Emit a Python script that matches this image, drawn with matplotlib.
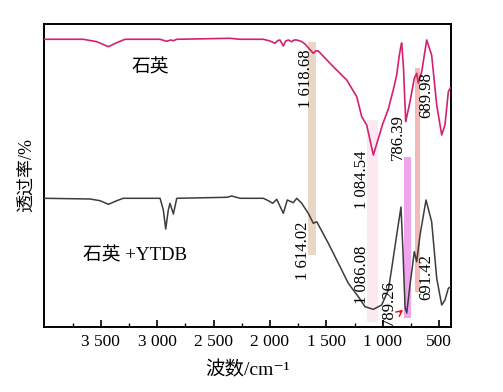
import numpy as np
import matplotlib
matplotlib.use('Agg')
import matplotlib.pyplot as plt

plt.rcParams['font.family'] = ['Liberation Serif', 'Noto Sans CJK SC', 'DejaVu Serif']

# 石英 (top curve)
top_wn = [4000, 3654, 3535, 3432, 3358, 3285, 2974, 2915, 2879, 2856, 2826, 2354, 2265,
          2058, 2000, 1955, 1930, 1911, 1881, 1860, 1837, 1807, 1785, 1762, 1720, 1689,
          1650, 1615, 1590, 1571, 1438, 1319, 1230, 1186, 1142, 1083, 1040, 1000, 950,
          900, 876, 855, 840, 832, 817, 796, 758, 720, 699, 684, 654, 610, 566, 521,
          477, 448, 418, 400]
top_T = [287.7, 287.7, 285.3, 280.3, 284.3, 287.7, 287.7, 285.7, 287, 286.3, 287.7, 288.7, 287.7,
         287.7, 286, 283.7, 286.5, 287, 281, 286, 287, 285.3, 287, 287, 285.5, 283,
         278, 273.7, 276.3, 276, 260.3, 247, 230.3, 210.3, 202, 172, 188, 203, 218,
         240, 252, 270, 280, 284, 262, 205.3, 225.3, 248.7, 253.7, 243.7, 255.3, 287, 272, 222,
         192, 202, 235.3, 239]

# 石英 +YTDB (bottom curve)
bot_wn = [4000, 3595, 3506, 3432, 3358, 3300, 2974, 2945, 2924, 2901, 2886, 2856, 2826,
          2383, 2339, 2265, 2058, 2014, 1975, 1940, 1881, 1846, 1793, 1762, 1718, 1660,
          1615, 1585, 1482, 1393, 1305, 1216, 1157, 1083, 1009, 950, 920, 876, 838, 820,
          802, 787, 758, 720, 699, 669, 616, 566, 521, 477, 448, 418, 400]
bot_T = [128.7, 128, 126.3, 122.7, 126.3, 128.7, 128.7, 117, 98, 117, 123.7, 113, 128.7,
         129.7, 131, 128.7, 128.7, 126.3, 123.7, 127.7, 113.7, 127, 124.3, 128.7, 123.7, 113.7,
         103.7, 105.3, 83.7, 63.7, 43.7, 30.3, 20.3, 17.7, 22, 37, 58.7, 92, 120, 75,
         20, 14, 42, 75.3, 65.3, 92, 127, 105.3, 48.7, 22, 27, 38.7, 40]

# highlighted bands: (wn_left, wn_right, T_low, T_high, colour)
bands = [(1660, 1594, 72, 285, '#ead6c4'),
         (1140, 1040, 5, 207, '#fce8f1'),
         (812, 748, 9, 170, '#f0a4ee'),
         (718, 665, 35, 259, '#f4bab6')]

# peak labels: (text, wn, T)
peak_labels = [('1 618.68', 1684, 248), ('1 614.02', 1708, 76),
               ('1 084.54', 1180, 147), ('1 086.08', 1186, 52),
               ('786.39', 869, 190), ('789.26', 942, 24),
               ('689.98', 612, 232), ('691.42', 612, 50)]

xticks = [3500, 3000, 2500, 2000, 1500, 1000, 500]
xticklabels = ['3 500', '3 000', '2 500', '2 000', '1 500', '1 000', '500']

fig = plt.figure(figsize=(5.03, 3.92), dpi=100)
ax = fig.add_axes([0.0875, 0.1658, 0.809, 0.773])

for x0, x1, y0, y1, c in bands:
    ax.fill_between([x0, x1], y0, y1, color=c, lw=0, zorder=1)

ax.plot(top_wn, top_T, color='#d42072', lw=1.2, zorder=3)
ax.plot(bot_wn, bot_T, color='#3c3c3c', lw=1.1, zorder=3)

for txt, x, y in peak_labels:
    ax.text(x, y, txt, rotation=90, ha='center', va='center', fontsize=12, zorder=4)

ax.text(3062, 259, '石英', ha='center', va='center', fontsize=13.5)
ax.text(3660, 71, '石英 +YTDB', ha='left', va='center', fontsize=13.5)

ax.annotate('', xy=(800, 19), xytext=(866, 13),
            arrowprops=dict(arrowstyle='->', color='red', lw=1), zorder=5)

ax.set_xlim(4003, 395)
ax.set_ylim(0, 303)
ax.set_xticks(xticks)
ax.set_xticklabels(xticklabels)
ax.set_xticks([3750, 3250, 2750, 2250, 1750, 1250, 750], minor=True)
ax.set_yticks([])
ax.tick_params(axis='x', which='major', direction='in', length=5, width=1.2, labelsize=12.5, pad=5)
ax.tick_params(axis='x', which='minor', direction='in', length=3, width=1)
for s in ax.spines.values():
    s.set_linewidth(1.4)

ax.set_xlabel('波数/cm⁻¹', fontsize=14, labelpad=8)
ax.set_ylabel('透过率/%', fontsize=13, labelpad=6)

fig.savefig('out.png', dpi=100)
